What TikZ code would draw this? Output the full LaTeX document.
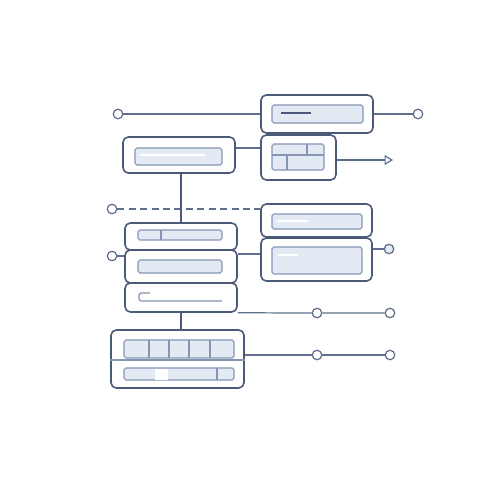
\documentclass[tikz,border=0pt]{standalone}
\usetikzlibrary{arrows.meta}
\definecolor{framecol}{HTML}{4A5A78}
\definecolor{wirecol}{HTML}{5E6E8C}
\definecolor{barline}{HTML}{8595B2}
\definecolor{barfill}{HTML}{E3EAF4}

\begin{document}
\begin{tikzpicture}[x=0.02cm, y=-0.02cm,
    box/.style = {draw=framecol, fill=white, rounded corners=3pt, line width=0.9pt, inner sep=0pt},
    bar/.style = {draw=barline, fill=barfill, rounded corners=1pt, line width=0.6pt, inner sep=0pt},
    port/.style = {circle, draw=wirecol, fill=white, minimum size=0.19cm, inner sep=0pt, line width=0.7pt},
    wire/.style = {draw=wirecol, line width=0.7pt},
    stem/.style = {draw=framecol, line width=1.2pt}]
    \useasboundingbox (0,0) rectangle (500,500);

    % Nodes
    \node[box, minimum width=2.24cm, minimum height=0.76cm] (head) at (317,114) {};
    \node[box, minimum width=2.24cm, minimum height=0.72cm] (src) at (179,155) {};
    \node[box, minimum width=1.50cm, minimum height=0.90cm] (grid) at (298.5,157.5) {};
    \node[box, minimum width=2.22cm, minimum height=0.66cm] (note) at (316.5,220.5) {};
    \node[box, minimum width=2.22cm, minimum height=0.86cm] (panel) at (316.5,259.5) {};
    \node[box, minimum width=2.24cm, minimum height=0.54cm] (rowa) at (181,236.5) {};
    \node[box, minimum width=2.24cm, minimum height=0.66cm] (rowb) at (181,266.5) {};
    \node[box, minimum width=2.24cm, minimum height=0.58cm] (rowc) at (181,297.5) {};
    \node[box, minimum width=2.66cm, minimum height=1.16cm] (table) at (177.5,359) {};

    % Inner bars
    \node[bar, minimum width=1.82cm, minimum height=0.36cm] (headbar) at (317.5,114) {};
    \draw[framecol, line width=0.9pt] (281,113) -- (311,113);
    \node[bar, minimum width=1.74cm, minimum height=0.34cm] (srcbar) at (178.5,156.5) {};
    \draw[white, line width=0.8pt] (140,155) -- (205,155);
    \node[bar, minimum width=1.04cm, minimum height=0.52cm] (gridbar) at (298,157) {};
    \draw[barline, line width=0.6pt] (272,155) -- (324,155) (307,144) -- (307,155) (287,155) -- (287,170);
    \node[bar, minimum width=1.80cm, minimum height=0.30cm] (notebar) at (317,221.5) {};
    \draw[white, line width=0.8pt] (277,221) -- (308,221);
    \node[bar, minimum width=1.80cm, minimum height=0.54cm] (panelbar) at (317,260.5) {};
    \draw[white, line width=0.8pt] (278,255) -- (298,255);
    \node[bar, minimum width=1.68cm, minimum height=0.20cm] (rowabar) at (180,235) {};
    \draw[barline, line width=0.6pt] (161,230) -- (161,240);
    \node[bar, minimum width=1.68cm, minimum height=0.26cm] (rowbbar) at (180,266.5) {};
    \draw[barline, line width=0.7pt, rounded corners=1pt] (150,293) -- (139,293) -- (139,301) -- (222,301);
    \node[bar, minimum width=2.20cm, minimum height=0.36cm] (cells) at (179,349) {};
    \foreach \xc in {149,169,189,210}
      \draw[barline, line width=0.6pt] (\xc,340) -- (\xc,358);
    \draw[barline, line width=0.6pt] (table.west |- 0,360) -- (table.east |- 0,360);
    \node[bar, minimum width=2.20cm, minimum height=0.24cm] (slider) at (179,374) {};
    \fill[white] (155,368.5) rectangle (168,379.5);
    \draw[barline, line width=0.6pt] (217,368) -- (217,380);

    % Ports
    \node[port] (p1) at (118,114) {};
    \node[port] (p2) at (418,114) {};
    \coordinate (tip) at (393,160);
    \node[port] (p3) at (112,209) {};
    \node[port] (p4) at (112,256) {};
    \node[port, fill=barfill] (p5) at (389,249) {};
    \node[port] (p6) at (317,313) {};
    \node[port] (p7) at (390,313) {};
    \node[port] (p8) at (317,355) {};
    \node[port] (p9) at (390,355) {};

    % Edges
    \draw[wire] (p1) -- (head);
    \draw[wire] (head) -- (p2);
    \draw[wire] (src.east |- 0,148) -- (grid.west |- 0,148);
    \draw[wire, -{Triangle[open, length=0.17cm, width=0.2cm]}] (grid.east |- tip) -- (tip);
    \draw[wire, dash pattern=on 4pt off 2.5pt] (p3) -- (note.west |- p3);
    \draw[wire] (p4) -- (rowb.west |- p4);
    \draw[wire] (rowb.east |- 0,254) -- (panel.west |- 0,254);
    \draw[wire] (panel.east |- p5) -- (p5);
    \draw[wire] (rowc.south east) -- (p6) -- (p7);
    \draw[wire] (table.east |- p8) -- (p8) -- (p9);
    \draw[stem] (rowa.north |- src.south) -- (rowa.north);
    \draw[stem] (rowc.south) -- (rowc.south |- table.north);

\end{tikzpicture}
\end{document}
